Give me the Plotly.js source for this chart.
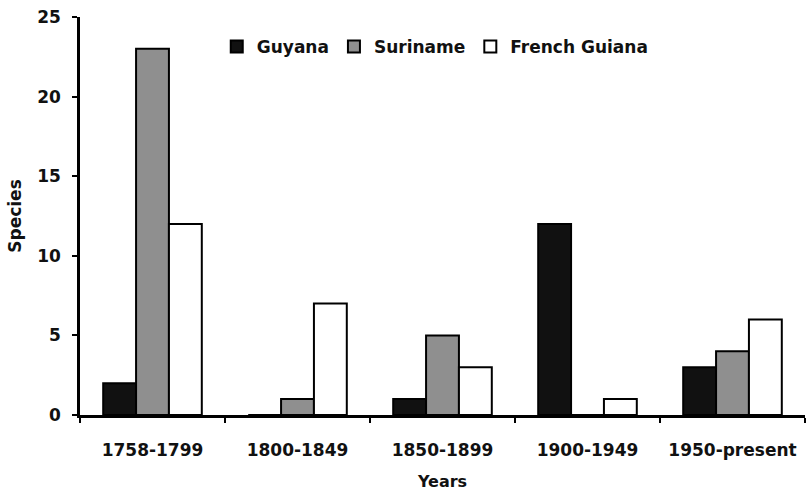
<!DOCTYPE html>
<html>
<head>
<meta charset="utf-8">
<script src="https://cdn.plot.ly/plotly-3.0.1.min.js"></script>
<style>html,body{margin:0;padding:0;background:#fff;}#chart{width:807px;height:495px;}</style>
</head>
<body>
<div id="chart"></div>
<script>
const categories = ["1758-1799", "1800-1849", "1850-1899", "1900-1949", "1950-present"];
const seriesNames = ["Guyana", "Suriname", "French Guiana"];
const guyana = [2, 0, 1, 12, 3];
const suriname = [23, 1, 5, 0, 4];
const frenchGuiana = [12, 7, 3, 1, 6];
const yTicks = [0, 5, 10, 15, 20, 25];

const fontFam = "DejaVu Sans, Liberation Sans, Arial, sans-serif";
const colors = ["#111111", "#8f8f8f", "#ffffff"];
const values = [guyana, suriname, frenchGuiana];

const data = values.map((v, i) => ({
  type: "bar",
  name: seriesNames[i],
  x: categories,
  y: v,
  marker: {color: colors[i], line: {color: "#000", width: 2}},
  hoverinfo: "x+y+name"
}));

const layout = {
  width: 807, height: 495,
  margin: {l: 80, r: 2, t: 17, b: 80},
  paper_bgcolor: "#fff", plot_bgcolor: "#fff",
  barmode: "group",
  bargap: 0.32,
  bargroupgap: 0,
  font: {family: fontFam, color: "#111", size: 17},
  showlegend: true,
  legend: {
    orientation: "h", x: 0.49, y: 0.97, xanchor: "center", yanchor: "top",
    font: {family: fontFam, size: 17, color: "#111", weight: "bold"},
    bgcolor: "rgba(0,0,0,0)", itemwidth: 30, tracegroupgap: 0,
    traceorder: "normal"
  },
  xaxis: {
    type: "category",
    tickson: "boundaries",
    ticks: "outside", ticklen: 5, tickwidth: 2, tickcolor: "#000",
    showline: true, linecolor: "#000", linewidth: 2.5,
    showgrid: false, zeroline: false,
    tickfont: {family: fontFam, size: 17, color: "#111", weight: "bold"},
    ticklabelstandoff: 18,
    title: {text: "Years", font: {family: fontFam, size: 16, color: "#111", weight: "bold"}, standoff: 17},
    fixedrange: true
  },
  yaxis: {
    range: [0, 25],
    tickvals: yTicks,
    ticktext: yTicks.map(String),
    ticks: "outside", ticklen: 5, tickwidth: 2, tickcolor: "#000",
    showline: true, linecolor: "#000", linewidth: 2.5,
    showgrid: false, zeroline: false,
    tickfont: {family: fontFam, size: 17, color: "#111", weight: "bold"},
    ticklabelstandoff: 8,
    fixedrange: true
  },
  annotations: [{
    text: "Species", textangle: -90,
    xref: "paper", yref: "paper", x: -0.09, y: 0.5,
    xanchor: "center", yanchor: "middle", showarrow: false,
    font: {family: fontFam, size: 17, color: "#111", weight: "bold"}
  }]
};

Plotly.newPlot("chart", data, layout, {displayModeBar: false, staticPlot: false});
</script>
</body>
</html>
